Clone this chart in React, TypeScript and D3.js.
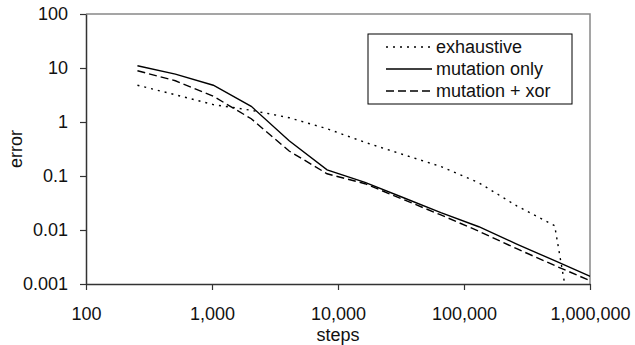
import * as d3 from 'd3';
import { useRef, useEffect } from 'react';

const steps = [256, 512, 1024, 2048, 4096, 8192, 16384, 32768, 65536, 131072, 262144, 524288, 1048576];
const exhaustive = [4.8, 3.2, 2.1, 1.65, 1.2, 0.75, 0.42, 0.25, 0.15, 0.075, 0.028, 0.012, 0.000001];
const mutationOnly = [11, 7.7, 4.8, 1.95, 0.45, 0.13, 0.076, 0.04, 0.021, 0.0115, 0.0055, 0.0027, 0.00133];
const mutationXor = [8.9, 5.8, 3.0, 1.15, 0.29, 0.11, 0.072, 0.037, 0.019, 0.0095, 0.0045, 0.0022, 0.0011];

const xTicks = [100, 1000, 10000, 100000, 1000000];
const yTicks = [0.001, 0.01, 0.1, 1, 10, 100];

const series = [
  { name: 'exhaustive', values: exhaustive, dash: '2,5' },
  { name: 'mutation only', values: mutationOnly, dash: '' },
  { name: 'mutation + xor', values: mutationXor, dash: '8,4' },
];

const W = 635;
const H = 345;
const margin = { left: 86, right: 45, top: 14, bottom: 61 };

const App = () => {
  const ref = useRef<SVGSVGElement>(null);

  useEffect(() => {
    if (!ref.current) return;
    const svg = d3.select(ref.current);
    svg.selectAll('*').remove();

    const x = d3.scaleLog().domain([100, 1000000]).range([margin.left, W - margin.right]);
    const y = d3.scaleLog().domain([0.001, 100]).range([H - margin.bottom, margin.top]);
    const font = 'Liberation Sans, Arial, sans-serif';
    const fs = 18;

    // top/right border in lighter gray
    svg.append('path')
      .attr('d', `M${margin.left},${margin.top}H${x.range()[1]}V${y.range()[0]}`)
      .attr('fill', 'none').attr('stroke', '#888').attr('stroke-width', 1.5);

    svg.append('defs').append('clipPath').attr('id', 'plot-clip')
      .append('rect')
      .attr('x', margin.left).attr('y', margin.top)
      .attr('width', x.range()[1] - margin.left)
      .attr('height', y.range()[0] - margin.top);

    const xAxis = svg.append('g')
      .attr('transform', `translate(0,${y.range()[0]})`)
      .call(d3.axisBottom(x).tickValues(xTicks).tickSizeInner(6).tickSizeOuter(0)
        .tickPadding(17).tickFormat(d => d3.format(',')(d as number)));
    xAxis.select('.domain').attr('stroke', '#333').attr('stroke-width', 1.5);
    xAxis.selectAll('.tick line').attr('stroke', '#333').attr('stroke-width', 1.2);
    xAxis.selectAll('text').attr('font-family', font).attr('font-size', fs).attr('fill', '#111');

    const yAxis = svg.append('g')
      .attr('transform', `translate(${margin.left},0)`)
      .call(d3.axisLeft(y).tickValues(yTicks).tickSizeInner(6).tickSizeOuter(0)
        .tickPadding(12).tickFormat(d => String(+d)));
    yAxis.select('.domain').attr('stroke', '#333').attr('stroke-width', 1.5);
    yAxis.selectAll('.tick line').attr('stroke', '#333').attr('stroke-width', 1.2);
    yAxis.selectAll('text').attr('font-family', font).attr('font-size', fs).attr('fill', '#111');

    const line = d3.line<number>()
      .x((_, i) => x(steps[i]))
      .y(d => y(d));

    const g = svg.append('g').attr('clip-path', 'url(#plot-clip)');
    series.forEach(s => {
      g.append('path')
        .attr('d', line(s.values))
        .attr('fill', 'none')
        .attr('stroke', '#000')
        .attr('stroke-width', 1.4)
        .attr('stroke-dasharray', s.dash || null);
    });

    // legend
    const lg = svg.append('g');
    lg.append('rect')
      .attr('x', 368).attr('y', 34).attr('width', 204).attr('height', 70)
      .attr('fill', '#fff').attr('stroke', '#000').attr('stroke-width', 1);
    series.forEach((s, i) => {
      const ly = 47 + i * 22;
      lg.append('line')
        .attr('x1', 386).attr('x2', 432).attr('y1', ly).attr('y2', ly)
        .attr('stroke', '#000').attr('stroke-width', 1.4)
        .attr('stroke-dasharray', s.dash || null);
      lg.append('text')
        .attr('x', 436).attr('y', ly).attr('dy', '0.35em')
        .attr('font-family', font).attr('font-size', fs).attr('fill', '#111')
        .text(s.name);
    });

    svg.append('text')
      .attr('x', (margin.left + x.range()[1]) / 2).attr('y', 341)
      .attr('text-anchor', 'middle').attr('font-family', font).attr('font-size', fs).attr('fill', '#111')
      .text('steps');

    svg.append('text')
      .attr('transform', `translate(22,${(margin.top + y.range()[0]) / 2}) rotate(-90)`)
      .attr('text-anchor', 'middle').attr('font-family', font).attr('font-size', fs).attr('fill', '#111')
      .text('error');
  }, []);

  return <svg ref={ref} width={W} height={H} style={{ position: 'absolute', left: 0, top: 0 }}></svg>;
};

export default App;
